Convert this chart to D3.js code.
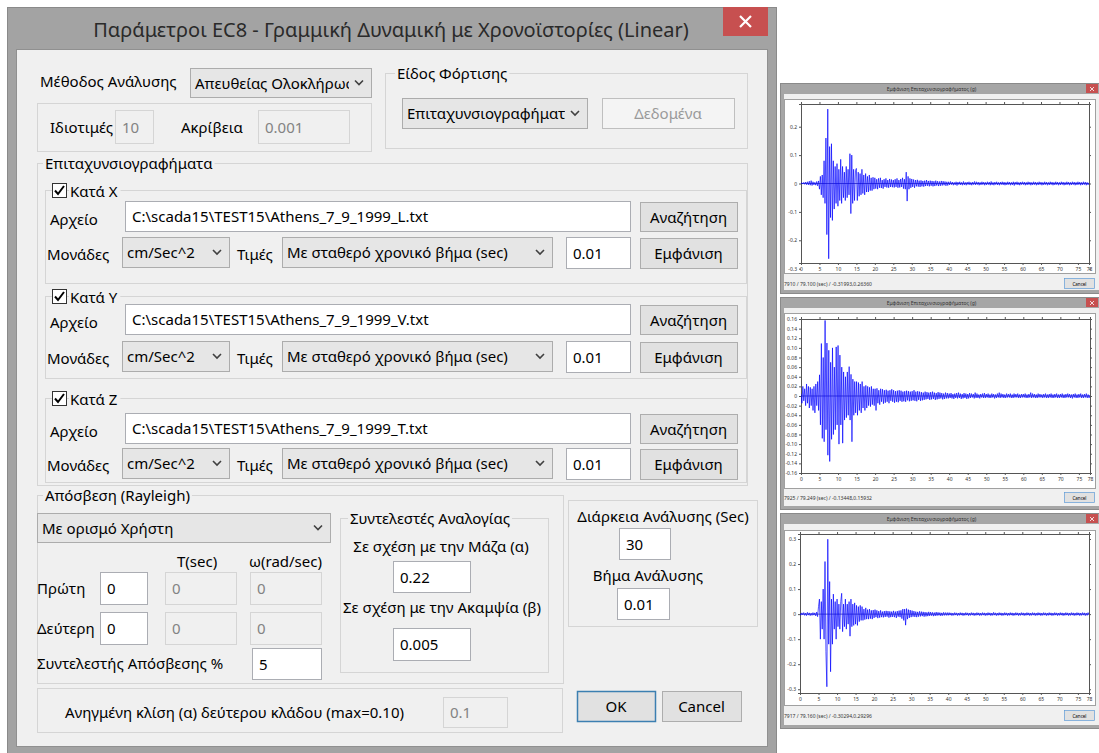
<!DOCTYPE html>
<html><head><meta charset="utf-8">
<script src="https://cdn.jsdelivr.net/npm/d3@7"></script>
<style>body{margin:0;background:#fff}svg{display:block}</style>
</head><body>
<svg id="c" width="1099" height="753"></svg>
<script>
// ---------------- DATA ----------------
const dt = 0.25; // sampling step of the plotted records (sec)
const accX = [
0.000,0.003,-0.002,0.004,-0.003,0.005,-0.004,0.006,-0.005,0.008,-0.006,0.010,-0.007,0.006,-0.005,0.004,-0.006,0.007,-0.008,0.009,
-0.020,0.025,-0.040,0.030,-0.050,0.080,-0.070,0.160,-0.180,0.262,-0.265,0.130,-0.120,0.140,-0.130,0.080,-0.090,0.060,-0.070,0.070,
-0.080,0.050,-0.060,0.085,-0.070,0.060,-0.050,0.040,-0.060,0.060,-0.050,0.050,-0.040,0.105,-0.106,0.100,-0.070,0.050,-0.060,0.045,
0.053,-0.060,0.040,-0.045,0.035,-0.040,0.050,-0.035,0.030,-0.040,0.035,-0.030,0.025,-0.030,0.030,-0.025,0.020,-0.025,0.022,-0.020,
0.020,-0.018,0.015,-0.020,0.018,-0.015,0.020,-0.016,0.012,-0.018,0.015,-0.012,0.018,-0.014,0.012,-0.015,0.016,-0.012,0.014,-0.013,
0.012,-0.014,0.015,-0.012,0.018,-0.015,0.012,-0.014,0.016,-0.012,0.020,-0.018,0.015,-0.020,0.040,-0.062,0.025,-0.020,0.018,-0.015,
0.016,-0.012,0.014,-0.015,0.012,-0.010,0.013,-0.011,0.010,-0.012,0.011,-0.010,0.009,-0.011,0.010,-0.009,0.012,-0.008,0.009,-0.010,
0.010,-0.008,0.009,-0.010,0.008,-0.009,0.010,-0.007,0.008,-0.009,0.007,-0.008,0.009,-0.007,0.008,-0.006,0.007,-0.008,0.006,-0.007,
0.006,-0.005,0.007,-0.004,0.005,-0.006,0.004,-0.005,0.006,-0.007,0.005,-0.004,0.006,-0.005,0.004,-0.006,0.007,-0.005,0.004,-0.006,
0.005,-0.004,0.006,-0.005,0.004,-0.006,0.005,-0.004,0.007,-0.005,0.006,-0.004,0.005,-0.006,0.004,-0.005,0.006,-0.004,0.005,-0.006,
0.004,-0.005,0.006,-0.004,0.005,-0.006,0.007,-0.005,0.004,-0.006,0.005,-0.004,0.006,-0.005,0.004,-0.006,0.005,-0.004,0.006,-0.005,
0.005,-0.006,0.004,-0.005,0.006,-0.004,0.005,-0.006,0.004,-0.005,0.006,-0.007,0.005,-0.004,0.006,-0.005,0.004,-0.006,0.005,-0.004,
0.006,-0.004,0.005,-0.006,0.004,-0.005,0.006,-0.004,0.005,-0.006,0.004,-0.005,0.006,-0.004,0.005,-0.006,0.004,-0.005,0.006,-0.004,
0.005,-0.006,0.004,-0.005,0.006,-0.004,0.005,-0.006,0.004,-0.005,0.006,-0.004,0.005,-0.006,0.004,-0.005,0.006,-0.004,0.005,-0.006,
0.004,-0.005,0.006,-0.004,0.005,-0.006,0.004,-0.005,0.006,-0.004,0.005,-0.006,0.004,-0.005,0.006,-0.004,0.005,-0.006,0.004,-0.005,
0.006,-0.004,0.005,-0.006,0.004,-0.005,0.006,-0.004,0.005,-0.006,0.004,-0.005,0.003
];
const accY = [
0.005,-0.015,0.020,-0.010,0.015,-0.020,0.025,-0.015,0.020,-0.025,0.018,-0.020,0.015,-0.030,0.020,-0.035,0.025,-0.020,0.030,-0.030,
0.044,-0.060,0.109,-0.088,0.080,-0.095,0.157,-0.070,0.110,-0.123,0.095,-0.136,0.070,-0.090,0.100,-0.080,0.060,-0.070,0.102,-0.060,
0.105,-0.100,0.085,-0.060,0.060,-0.098,0.050,-0.050,0.040,-0.045,0.050,-0.040,0.061,-0.050,0.045,-0.095,0.035,-0.040,0.030,-0.035,
0.030,-0.040,0.028,-0.030,0.025,-0.035,0.030,-0.025,0.020,-0.030,0.022,-0.025,0.020,-0.020,0.018,-0.022,0.020,-0.018,0.015,-0.020,
0.015,-0.030,0.016,-0.015,0.012,-0.018,0.015,-0.012,0.014,-0.016,0.012,-0.014,0.013,-0.012,0.011,-0.015,0.012,-0.010,0.014,-0.012,
0.012,-0.014,0.010,-0.012,0.011,-0.013,0.012,-0.010,0.011,-0.012,0.009,-0.011,0.010,-0.012,0.011,-0.009,0.010,-0.011,0.009,-0.010,
0.010,-0.009,0.012,-0.010,0.009,-0.011,0.010,-0.008,0.009,-0.010,0.008,-0.009,0.007,-0.008,0.009,-0.007,0.008,-0.006,0.007,-0.008,
0.008,-0.007,0.009,-0.006,0.007,-0.008,0.006,-0.007,0.008,-0.006,0.007,-0.005,0.006,-0.007,0.005,-0.006,0.007,-0.005,0.006,-0.005,
0.005,-0.004,0.006,-0.005,0.004,-0.006,0.005,-0.004,0.006,-0.005,0.007,-0.004,0.005,-0.006,0.004,-0.005,0.006,-0.004,0.005,-0.006,
0.004,-0.005,0.006,-0.004,0.005,-0.003,0.004,-0.005,0.007,-0.004,0.005,-0.004,0.003,-0.005,0.004,-0.003,0.005,-0.004,0.006,-0.004,
0.004,-0.003,0.005,-0.004,0.003,-0.004,0.005,-0.003,0.004,-0.005,0.003,-0.004,0.005,-0.003,0.007,-0.004,0.005,-0.003,0.004,-0.004,
0.003,-0.004,0.005,-0.003,0.004,-0.003,0.005,-0.004,0.003,-0.004,0.005,-0.003,0.004,-0.003,0.005,-0.004,0.003,-0.004,0.004,-0.003,
0.004,-0.003,0.005,-0.004,0.003,-0.004,0.004,-0.003,0.007,-0.004,0.005,-0.003,0.004,-0.004,0.003,-0.004,0.005,-0.003,0.004,-0.003,
0.003,-0.004,0.004,-0.003,0.005,-0.004,0.003,-0.004,0.004,-0.003,0.005,-0.004,0.003,-0.004,0.004,-0.003,0.005,-0.004,0.003,-0.004,
0.004,-0.003,0.005,-0.004,0.003,-0.004,0.004,-0.003,0.005,-0.003,0.004,-0.004,0.003,-0.005,0.004,-0.003,0.005,-0.004,0.003,-0.004,
0.004,-0.003,0.005,-0.004,0.003,-0.004,0.004,-0.003,0.005,-0.004,0.003,-0.004,0.002
];
const accZ = [
0.002,-0.004,0.005,-0.003,0.006,-0.005,0.004,-0.006,0.007,-0.004,0.005,-0.006,0.004,-0.005,0.006,-0.004,0.005,-0.007,0.008,-0.010,
0.030,0.060,-0.100,0.050,-0.060,0.100,-0.100,0.210,-0.150,-0.290,0.299,-0.120,0.130,-0.230,0.060,-0.120,0.080,-0.060,0.050,-0.100,
0.060,-0.050,0.040,-0.060,0.050,0.083,-0.070,0.040,-0.050,0.060,-0.060,0.040,-0.040,0.050,-0.088,0.060,-0.050,0.040,-0.045,0.045,
-0.040,0.035,-0.045,0.030,-0.030,0.035,-0.025,0.030,-0.025,0.020,-0.022,0.025,-0.020,0.018,-0.020,0.020,-0.018,0.015,-0.020,0.016,
-0.015,0.018,-0.012,0.015,-0.016,0.012,-0.014,0.015,-0.012,0.010,-0.013,0.012,-0.011,0.013,-0.010,0.012,-0.014,0.011,-0.012,0.010,
-0.011,0.013,-0.012,0.010,-0.015,0.012,-0.010,0.014,-0.012,0.015,-0.018,0.020,-0.025,0.020,-0.044,0.022,-0.020,0.018,-0.015,0.016,
-0.012,0.014,-0.010,0.012,-0.011,0.010,-0.012,0.009,-0.010,0.011,-0.009,0.010,-0.008,0.009,-0.010,0.008,-0.009,0.007,-0.008,0.009,
-0.007,0.008,-0.006,0.007,-0.008,0.006,-0.007,0.008,-0.006,0.007,-0.005,0.006,-0.007,0.005,-0.006,0.007,-0.005,0.006,-0.005,0.006,
-0.005,0.006,-0.004,0.005,-0.006,0.004,-0.005,0.006,-0.004,0.005,-0.006,0.004,-0.005,0.006,-0.004,0.005,-0.006,0.004,-0.005,0.006,
-0.004,0.005,-0.006,0.004,-0.005,0.006,-0.004,0.005,-0.006,0.004,-0.005,0.006,-0.004,0.005,-0.006,0.004,-0.005,0.006,-0.004,0.005,
-0.006,0.004,-0.005,0.006,-0.004,0.005,-0.006,0.004,-0.005,0.007,-0.004,0.005,-0.006,0.004,-0.005,0.006,-0.004,0.005,-0.006,0.004,
-0.005,0.006,-0.004,0.005,-0.006,0.004,-0.005,0.006,-0.004,0.005,-0.006,0.004,-0.005,0.006,-0.004,0.005,-0.006,0.004,-0.005,0.006,
-0.004,0.005,-0.006,0.004,-0.005,0.006,-0.004,0.005,-0.006,0.004,-0.005,0.006,-0.004,0.005,-0.006,0.004,-0.005,0.006,-0.004,0.005,
-0.006,0.004,-0.005,0.006,-0.004,0.005,-0.006,0.004,-0.005,0.006,-0.004,0.005,-0.006,0.004,-0.005,0.006,-0.004,0.005,-0.006,0.004,
-0.005,0.006,-0.004,0.005,-0.006,0.004,-0.005,0.006,-0.004,0.005,-0.006,0.004,-0.005,0.006,-0.004,0.005,-0.006,0.004,-0.005,0.006,
-0.004,0.005,-0.006,0.004,-0.005,0.006,-0.004,0.005,-0.006,0.004,-0.005,0.006,-0.003
];
const timeTicks = [0,5,10,15,20,25,30,35,40,45,50,55,60,65,70,75,78];
const timeTickLabels = ["0","5","10","15","20","25","30","35","40","45","50","55","60","65","70","75","78"];
const yTicksX = [-0.3,-0.2,-0.1,0,0.1,0.2];
const yLabelsX = ["-0.3","-0.2","-0.1","0","0.1","0.2"];
const yTicksY = [-0.16,-0.14,-0.12,-0.10,-0.08,-0.06,-0.04,-0.02,0,0.02,0.04,0.06,0.08,0.10,0.12,0.14,0.16];
const yLabelsY = ["-0.16","-0.14","-0.12","-0.10","-0.08","-0.06","-0.04","-0.02","0","0.02","0.04","0.06","0.08","0.10","0.12","0.14","0.16"];
const yTicksZ = [-0.3,-0.2,-0.1,0,0.1,0.2,0.3];
const yLabelsZ = ["-0.3","-0.2","-0.1","0","0.1","0.2","0.3"];
const statusX = "7910 / 79.100 (sec) / -0.31993,0.26360";
const statusY = "7925 / 79.249 (sec) / -0.13448,0.15932";
const statusZ = "7917 / 79.160 (sec) / -0.30294,0.29296";

// ---------------- DRAW ----------------
const svg = d3.select('#c');
const FONT = "'Noto Sans','Open Sans','DejaVu Sans',sans-serif";
const defs = svg.append('defs');
let clipId = 0;

function T(x, y, s, o = {}) {
  return (o.g || svg).append('text').attr('x', x).attr('y', y)
    .attr('dominant-baseline', 'central')
    .attr('font-family', FONT).attr('font-size', o.size || 15)
    .attr('fill', o.fill || '#000').attr('text-anchor', o.anchor || 'start')
    .attr('clip-path', o.clip || null)
    .text(s);
}
function R(x, y, w, h, fill, stroke, sw) {
  return svg.append('rect').attr('x', x + 0.5).attr('y', y + 0.5)
    .attr('width', w).attr('height', h).attr('fill', fill)
    .attr('stroke', stroke || 'none').attr('stroke-width', sw || 1);
}
function clipRect(x, y, w, h) {
  const id = 'cl' + (clipId++);
  defs.append('clipPath').attr('id', id).append('rect')
    .attr('x', x).attr('y', y).attr('width', w).attr('height', h);
  return 'url(#' + id + ')';
}
function textbox(x, y, w, h, val, dis) {
  R(x, y, w, h, dis ? '#f0f0f0' : '#ffffff', dis ? '#d5d5d5' : '#abadb3');
  T(x + 7, y + h / 2, val, {fill: dis ? '#838383' : '#000', clip: clipRect(x + 2, y, w - 4, h)});
}
function chevron(cx, cy) {
  svg.append('path').attr('d', `M${cx - 4},${cy - 2}L${cx},${cy + 2}L${cx + 4},${cy - 2}`)
    .attr('fill', 'none').attr('stroke', '#404040').attr('stroke-width', 1.6);
}
function combo(x, y, w, h, val) {
  R(x, y, w, h, '#e6e6e6', '#acacac');
  T(x + 5, y + h / 2, val, {clip: clipRect(x + 2, y, w - 24, h)});
  chevron(x + w - 12, y + h / 2);
}
function button(x, y, w, h, label, o = {}) {
  R(x, y, w, h, o.dis ? '#f4f4f4' : '#e1e1e1', o.def ? '#3c7fb1' : (o.dis ? '#bfbfbf' : '#adadad'), o.def ? 1.5 : 1);
  T(x + w / 2, y + h / 2, label, {anchor: 'middle', fill: o.dis ? '#9a9a9a' : '#000'});
}
function group(x, y, w, h, label, lx) {
  R(x, y, w, h, 'none', '#d5d5d5');
  if (label) {
    const t = T(lx || x + 8, y, label);
    const len = t.node().getComputedTextLength();
    svg.insert('rect', () => t.node()).attr('x', (lx || x + 8) - 2).attr('y', y - 8)
      .attr('width', len + 4).attr('height', 16).attr('fill', '#f0f0f0');
  }
}
function checkbox(x, y, label) {
  R(x, y, 14, 14, '#ffffff', '#333333');
  svg.append('path').attr('d', `M${x + 3},${y + 7.5}L${x + 6},${y + 11}L${x + 12},${y + 3}`)
    .attr('fill', 'none').attr('stroke', '#000').attr('stroke-width', 2);
  const t = T(x + 18, y + 7.5, label);
  const len = t.node().getComputedTextLength();
  svg.insert('rect', () => t.node()).attr('x', x + 17).attr('y', y - 1)
    .attr('width', len + 4).attr('height', 16).attr('fill', '#f0f0f0');
}

// ---- main dialog ----
R(7, 7, 769, 760, '#a3a3a3', '#8a8a8a');
R(16, 49, 751, 697, '#f0f0f0', '#909090');
T(391, 29, 'Παράμετροι EC8 - Γραμμική Δυναμική με Χρονοϊστορίες (Linear)', {size: 20, anchor: 'middle', fill: '#2a2a2a'});
svg.append('rect').attr('x', 723).attr('y', 7).attr('width', 45).attr('height', 29).attr('fill', '#c75050');
svg.append('path').attr('d', 'M740,16L751,27M751,16L740,27').attr('stroke', '#fff').attr('stroke-width', 2.2);

T(40, 81, 'Μέθοδος Ανάλυσης');
combo(190, 68, 181, 29, 'Απευθείας Ολοκλήρωση');
group(37, 103, 334, 48);
T(50, 127, 'Ιδιοτιμές');
textbox(115, 110, 38, 33, '10', true);
T(181, 127, 'Ακρίβεια');
textbox(258, 110, 91, 33, '0.001', true);

group(385, 73, 362, 75, 'Είδος Φόρτισης', 397);
combo(402, 98, 185, 30, 'Επιταχυνσιογραφήματα');
button(602, 98, 132, 30, 'Δεδομένα', {dis: true});

group(37, 163, 710, 322, 'Επιταχυνσιογραφήματα', 45);
const rows = [
  {lab: 'Κατά X', top: 190, bot: 283, file: 'C:\\scada15\\TEST15\\Athens_7_9_1999_L.txt', fy: 201, uy: 237},
  {lab: 'Κατά Y', top: 296, bot: 378, file: 'C:\\scada15\\TEST15\\Athens_7_9_1999_V.txt', fy: 304, uy: 341},
  {lab: 'Κατά Z', top: 398, bot: 482, file: 'C:\\scada15\\TEST15\\Athens_7_9_1999_T.txt', fy: 413, uy: 448}
];
rows.forEach(r => {
  R(45, r.top, 701, r.bot - r.top, 'none', '#d5d5d5');
  checkbox(52, r.top - 7, r.lab);
  T(50, r.fy + 18, 'Αρχείο');
  textbox(125, r.fy, 505, 30, r.file, false);
  button(640, r.fy + 1, 97, 29, 'Αναζήτηση');
  T(47, r.uy + 17, 'Μονάδες');
  combo(122, r.uy, 107, 30, 'cm/Sec^2');
  T(237, r.uy + 17, 'Τιμές');
  combo(282, r.uy, 270, 30, 'Με σταθερό χρονικό βήμα (sec)');
  textbox(566, r.uy, 64, 31, '0.01', false);
  button(640, r.uy + 1, 97, 30, 'Εμφάνιση');
});

group(37, 495, 526, 188, 'Απόσβεση (Rayleigh)', 45);
combo(37, 513, 293, 29, 'Με ορισμό Χρήστη');
T(177, 561, 'T(sec)');
T(249, 561, 'ω(rad/sec)');
T(37, 588, 'Πρώτη');
textbox(100, 572, 47, 32, '0', false);
textbox(165, 572, 71, 32, '0', true);
textbox(250, 572, 71, 32, '0', true);
T(37, 628, 'Δεύτερη');
textbox(100, 612, 47, 32, '0', false);
textbox(165, 612, 71, 32, '0', true);
textbox(250, 612, 71, 32, '0', true);
T(37, 663, 'Συντελεστής Απόσβεσης %');
textbox(252, 648, 69, 31, '5', false);

group(340, 518, 208, 154, 'Συντελεστές Αναλογίας', 350);
T(441, 546, 'Σε σχέση με την Μάζα (α)', {anchor: 'middle'});
textbox(393, 561, 77, 31, '0.22', false);
T(442, 607, 'Σε σχέση με την Ακαμψία (β)', {anchor: 'middle'});
textbox(393, 628, 77, 32, '0.005', false);

group(568, 500, 189, 126);
T(663, 516, 'Διάρκεια Ανάλυσης (Sec)', {anchor: 'middle'});
textbox(619, 528, 51, 31, '30', false);
T(648, 575, 'Βήμα Ανάλυσης', {anchor: 'middle'});
textbox(617, 588, 52, 31, '0.01', false);

group(37, 688, 525, 44);
T(65, 712, 'Ανηγμένη κλίση (α) δεύτερου κλάδου (max=0.10)');
textbox(443, 697, 64, 30, '0.1', true);
button(577, 691, 78, 30, 'OK', {def: true});
button(662, 691, 79, 30, 'Cancel');

// ---- accelerogram windows ----
function accelWindow(c) {
  const g = svg.append('g');
  g.append('rect').attr('x', c.wx + 0.5).attr('y', c.wy + 0.5).attr('width', c.ww).attr('height', c.wh)
    .attr('fill', '#f0f0f0').attr('stroke', '#8a8a8a');
  g.append('rect').attr('x', c.wx + 1).attr('y', c.wy + 1).attr('width', c.ww - 1).attr('height', 10).attr('fill', '#a6a6a6');
  g.append('rect').attr('x', c.wx + 1).attr('y', c.wy + 1).attr('width', 3).attr('height', c.wh - 1).attr('fill', '#a6a6a6');
  g.append('rect').attr('x', c.wx + 1).attr('y', c.wy + c.wh - 3).attr('width', c.ww - 1).attr('height', 3).attr('fill', '#a6a6a6');
  T(c.wx + c.ww / 2 - 8, c.wy + 6, 'Εμφάνιση Επιταχυνσιογραφήματος (g)', {g, size: 5, anchor: 'middle', fill: '#333'});
  g.append('rect').attr('x', c.wx + c.ww - 13).attr('y', c.wy + 1).attr('width', 12).attr('height', 9).attr('fill', '#c75050');
  g.append('path').attr('d', `M${c.wx + c.ww - 9},${c.wy + 4}l4,4m0,-4l-4,4`).attr('stroke', '#fff').attr('stroke-width', 0.8);
  // sunken white panel
  g.append('rect').attr('x', c.px + 0.5).attr('y', c.py + 0.5).attr('width', c.pw).attr('height', c.ph)
    .attr('fill', '#ffffff').attr('stroke', '#a0a0a0');

  const x = d3.scaleLinear().domain([0, 78]).range([c.l, c.r]);
  const y = d3.scaleLinear().domain(c.yDomain).range([c.b, c.t]);
  const axStyle = sel => {
    sel.selectAll('path').attr('stroke', '#555');
    sel.selectAll('line').attr('stroke', '#555');
    sel.selectAll('text').attr('font-size', 5).attr('font-family', FONT).attr('fill', '#333');
  };
  g.append('g').attr('transform', `translate(0,${c.b})`)
    .call(d3.axisBottom(x).tickValues(timeTicks).tickSize(2).tickPadding(2)
      .tickFormat((d, i) => timeTickLabels[i])).call(axStyle);
  g.append('g').attr('transform', `translate(0,${c.t})`)
    .call(d3.axisTop(x).tickValues(timeTicks).tickSize(2).tickFormat('')).call(axStyle);
  g.append('g').attr('transform', `translate(${c.l},0)`)
    .call(d3.axisLeft(y).tickValues(c.yTicks).tickSize(2).tickPadding(2)
      .tickFormat((d, i) => c.yLabels[i])).call(axStyle);
  g.append('g').attr('transform', `translate(${c.r},0)`)
    .call(d3.axisRight(y).tickValues(c.yTicks).tickSize(2).tickFormat('')).call(axStyle);

  const clip = clipRect(c.l, c.t, c.r - c.l, c.b - c.t);
  g.append('line').attr('x1', c.l).attr('x2', c.r).attr('y1', y(0)).attr('y2', y(0))
    .attr('stroke', '#000080').attr('stroke-width', 0.6);
  const line = d3.line().x((d, i) => x(i * dt)).y(d => y(d));
  g.append('path').datum(c.data).attr('d', line).attr('clip-path', clip)
    .attr('fill', 'none').attr('stroke', '#0000ff').attr('stroke-width', 0.8)
    .attr('stroke-opacity', 0.85).attr('stroke-linejoin', 'round');

  T(c.px, c.sy, c.status, {g, size: 5, fill: '#333'});
  g.append('rect').attr('x', c.wx + 284.5).attr('y', c.sy - 5.5).attr('width', 30).attr('height', 10)
    .attr('fill', '#e1e1e1').attr('stroke', '#5e9bd6').attr('stroke-width', 0.7);
  T(c.wx + 299.5, c.sy - 0.5, 'Cancel', {g, size: 4.5, anchor: 'middle'});
}

accelWindow({wx: 780, wy: 83, ww: 319, wh: 210, px: 784, py: 99, pw: 311, ph: 174,
  l: 801, r: 1089, t: 104, b: 263, yDomain: [-0.28, 0.28], yTicks: yTicksX, yLabels: yLabelsX,
  data: accX, status: statusX, sy: 284});
accelWindow({wx: 780, wy: 297, ww: 319, wh: 212, px: 784, py: 313, pw: 311, ph: 175,
  l: 801, r: 1090, t: 319, b: 473, yDomain: [-0.16, 0.16], yTicks: yTicksY, yLabels: yLabelsY,
  data: accY, status: statusY, sy: 498});
accelWindow({wx: 780, wy: 513, ww: 319, wh: 215, px: 784, py: 530, pw: 311, ph: 175,
  l: 800, r: 1089, t: 534, b: 693, yDomain: [-0.315, 0.32], yTicks: yTicksZ, yLabels: yLabelsZ,
  data: accZ, status: statusZ, sy: 716});
</script>
</body></html>
